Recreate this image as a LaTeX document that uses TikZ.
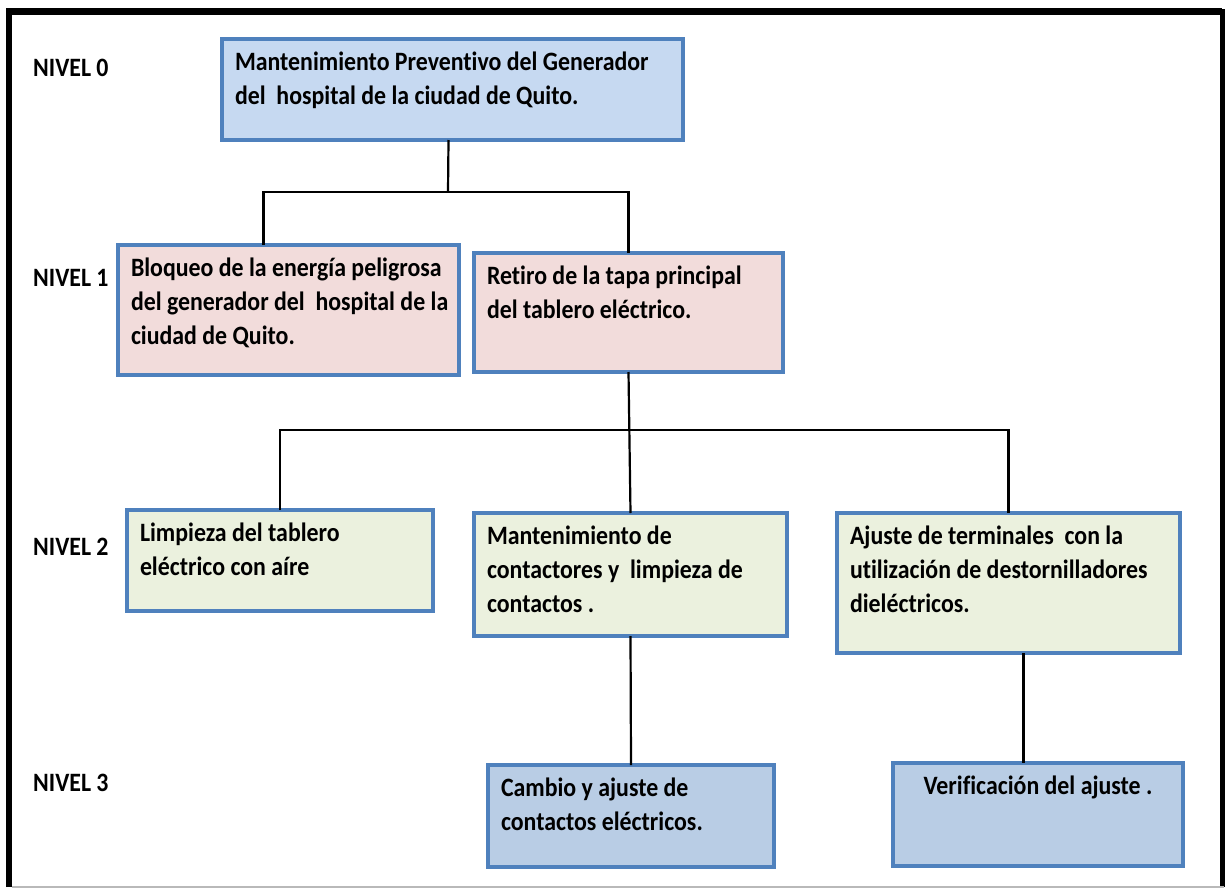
\documentclass[tikz,border=0pt]{standalone}
\usepackage{fontspec}
\setmainfont{Carlito}[FakeStretch=0.9,Ligatures=NoCommon]
\usetikzlibrary{calc}
\definecolor{marco}{HTML}{4F81BD}
\definecolor{azulclaro}{HTML}{C6D9F1}
\definecolor{rosa}{HTML}{F2DCDB}
\definecolor{verde}{HTML}{EBF1DE}
\definecolor{azul}{HTML}{B9CDE5}
\tikzset{
  caja/.style={draw=marco,line width=3.5pt,anchor=north west,inner sep=0pt,outer sep=0pt},
  nivel/.style={anchor=west,inner sep=0pt},
  enlace/.style={line width=2.2pt}
}
\newcommand{\caja}[6]{\node[caja,fill=#2] (#1) at (#3) {\parbox[c][#5][t]{#4}{\leftskip=13pt\vspace*{8pt}\strut#6}};}

\begin{document}
\begin{tikzpicture}[x=1pt,y=-1pt,font=\bfseries\fontsize{26.5}{34}\selectfont]
	\useasboundingbox (0,0) rectangle (1225,889);
	% marco
	\draw[line width=6.5pt] (9,887) -- (9,11.5) -- (1222,11.5);
	\draw[line width=5pt] (1222,9) -- (1222,887);
	\draw[gray!55,line width=1.5pt] (12,887) -- (1224,887);

	\node[nivel] (nivel0) at (33,68) {NIVEL 0};
	\node[nivel] (nivel1) at (33,278) {NIVEL 1};
	\node[nivel] (nivel2) at (33,547) {NIVEL 2};
	\node[nivel] (nivel3) at (33,783) {NIVEL 3};

	\caja{raiz}{azulclaro}{222,39}{461pt}{101pt}{Mantenimiento Preventivo del Generador\\ del~ hospital de la ciudad de Quito.}
	\caja{bloqueo}{rosa}{118,245}{341pt}{130pt}{Bloqueo de la energía peligrosa\\ del generador del~ hospital de la\\ ciudad de Quito.}
	\caja{retiro}{rosa}{474,253}{309pt}{119pt}{Retiro de la tapa principal\\ del tablero eléctrico.}
	\caja{limpieza}{verde}{127,510}{306pt}{101pt}{Limpieza del tablero\\ eléctrico con aíre}
	\caja{contactores}{verde}{474,513}{313pt}{123pt}{Mantenimiento de\\ contactores y~ limpieza de\\ contactos .}
	\caja{ajuste}{verde}{837,513}{343pt}{140pt}{Ajuste de terminales~ con la\\ utilización de destornilladores\\ dieléctricos.}
	\caja{cambio}{azul}{488,765}{286pt}{102pt}{Cambio y ajuste de\\ contactos eléctricos.}
	\caja{verificacion}{azul}{893,763}{290pt}{103pt}{\centering Verificación del ajuste .}

	\coordinate (bus1) at (448,192);
	\coordinate (bus2) at (630,430);

	\draw[enlace] ([xshift=-4pt]raiz.south) -- (bus1);
	\draw[enlace] ([xshift=-25pt]bloqueo.north) -- ([xshift=-25pt]bloqueo.north |- bus1) -- (retiro.north |- bus1) -- (retiro.north);
	\draw[enlace] (retiro.south) -- (contactores.north);
	\draw[enlace] (limpieza.north) -- (limpieza.north |- bus2) -- (ajuste.north |- bus2) -- (ajuste.north);
	\draw[enlace] (contactores.south) -- (cambio.north);
	\draw[enlace] ([xshift=15pt]ajuste.south) -- ([xshift=15pt]ajuste.south |- verificacion.north);
\end{tikzpicture}
\end{document}
